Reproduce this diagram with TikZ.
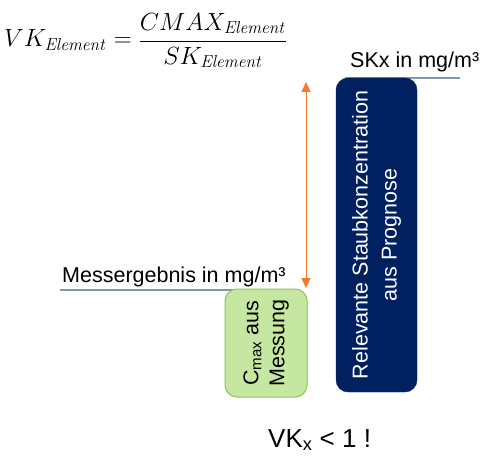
\documentclass[tikz,border=0pt]{standalone}
\usepackage[no-math]{fontspec}
\setmainfont{Liberation Sans}
\usetikzlibrary{arrows.meta,positioning}

\definecolor{navyblue}{HTML}{002060}
\definecolor{arroworange}{HTML}{F4782F}
\definecolor{lightgreen}{HTML}{C6E7A2}
\definecolor{greenborder}{HTML}{8DC653}
\definecolor{linegrey}{HTML}{8497B0}

\begin{document}
\begin{tikzpicture}[x=1pt,y=-1pt,
	txt/.style={font=\fontsize{21.5}{26}\selectfont, inner sep=0pt},
	uline/.style={draw=linegrey, line width=1.2pt},
	prognose/.style={rounded corners=12pt, fill=navyblue, draw=navyblue, text=white, rotate=90, align=center,
		minimum width=314pt, minimum height=81pt, font=\fontsize{21.5}{29}\selectfont},
	messung/.style={rounded corners=12pt, fill=lightgreen, draw=greenborder, line width=1pt, rotate=90, align=center,
		minimum width=108pt, minimum height=82pt, font=\fontsize{21.5}{26}\selectfont},
	spanarrow/.style={<->, >={Triangle[length=10pt,width=9pt]}, draw=arroworange, line width=1pt}]
	\useasboundingbox (0,0) rectangle (481,457);

	% formula
	\node[anchor=base west, inner sep=0pt, font=\fontsize{25}{29}\selectfont] (formel) at (4,47)
		{$\displaystyle VK_{\mathit{Element}}=\frac{CMAX_{\mathit{Element}}}{SK_{\mathit{Element}}}$};

	% limit line
	\draw[uline] (345,78) -- (460,78);
	\node[txt, anchor=base west] (sk) at (350,68) {SKx in mg/m³};
	\node[prognose] (staub) at (376.5,235) {Relevante Staubkonzentration\\aus Prognose};

	% measured value
	\draw[uline] (60,290) -- (237,290);
	\node[txt, anchor=base west] (mess) at (62,282) {Messergebnis in mg/m³};
	\node[messung] (cmax) at (266,343) {C\textsubscript{max} aus\\Messung};

	\coordinate (obenpfeil) at (306,82);
	\coordinate (untenpfeil) at (306,288);
	\draw[spanarrow] (obenpfeil) -- (untenpfeil);

	\node[anchor=base west, inner sep=0pt, font=\fontsize{26}{30}\selectfont] (vk) at (268,447) {VK\textsubscript{x} < 1 !};
\end{tikzpicture}
\end{document}
